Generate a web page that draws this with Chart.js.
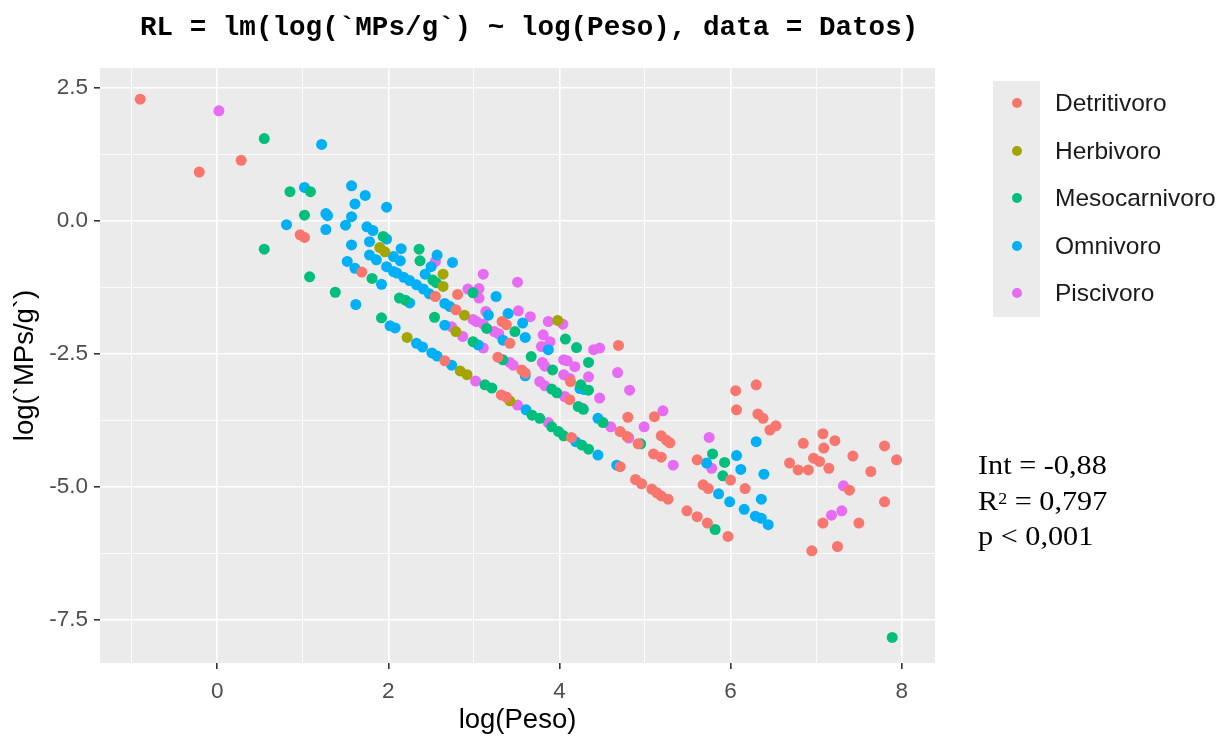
<!DOCTYPE html>
<html><head><meta charset="utf-8">
<script src="https://cdn.jsdelivr.net/npm/chart.js@4/dist/chart.umd.min.js"></script>
<style>
html,body{margin:0;padding:0;background:#fff;}
body{width:1220px;height:740px;overflow:hidden;position:relative;font-family:"Liberation Sans",Arial,sans-serif;}
#c{position:absolute;left:0;top:0;}
#title{position:absolute;left:140px;top:14px;font-family:"Liberation Mono","DejaVu Sans Mono",monospace;font-weight:bold;font-size:27.6px;line-height:28px;white-space:pre;color:#000;}
#legend{position:absolute;left:993px;top:81px;}
#legend .keys{position:absolute;left:0;top:0;width:47px;height:236px;background:#EBEBEB;}
#legend .item{position:absolute;left:0;height:47px;width:230px;}
#legend .dot{position:absolute;left:19px;width:10px;height:10px;border-radius:50%;}
#legend .lab{position:absolute;left:62px;font-size:24.5px;line-height:28px;color:#1a1a1a;white-space:nowrap;}
#annot{position:absolute;left:978px;top:448px;font-family:"Liberation Serif","Times New Roman",serif;font-size:27px;line-height:35.5px;color:#000;white-space:nowrap;transform:scaleX(1.12);transform-origin:0 0;}
#annot sup{font-size:16px;vertical-align:top;position:relative;top:-3px;}
</style>
</head><body>
<canvas id="c" width="1220" height="740"></canvas>
<div id="title">RL = lm(log(`MPs/g`) ~ log(Peso), data = Datos)</div>
<div id="legend"><div class="keys"></div></div>
<div id="annot">Int = -0,88<br>R<sup>2</sup> = 0,797<br>p &lt; 0,001</div>
<script>
const categories = ["Detritivoro","Herbivoro","Mesocarnivoro","Omnivoro","Piscivoro"];
const colors = ["#F8766D","#A3A500","#00BF7D","#00B0F6","#E76BF3"];

const detritivoro = [[-0.90,2.29],[-0.21,0.92],[0.28,1.14],[0.97,-0.26],[1.02,-0.31],[1.69,-0.96],[2.55,-1.42],[2.81,-1.38],[2.79,-1.67],[3.33,-1.89],[3.38,-1.95],[3.42,-2.30],[4.69,-2.34],[3.28,-2.56],[3.56,-2.80],[3.60,-2.86],[4.13,-3.02],[4.12,-3.36],[4.80,-3.69],[2.66,-2.63],[3.32,-3.27],[3.38,-3.31],[4.14,-4.07],[4.71,-3.96],[4.79,-4.05],[4.92,-4.19],[5.11,-3.68],[5.19,-4.04],[5.25,-4.12],[5.29,-4.17],[5.10,-4.38],[5.19,-4.44],[5.61,-4.49],[4.71,-4.62],[6.06,-3.19],[6.07,-3.55],[6.30,-3.08],[6.32,-3.63],[6.38,-3.71],[6.46,-3.93],[6.53,-3.85],[6.00,-4.87],[6.17,-5.03],[5.68,-4.96],[5.74,-5.03],[5.49,-5.45],[5.61,-5.56],[5.73,-5.68],[5.97,-5.93],[4.89,-4.86],[4.96,-4.94],[5.08,-5.04],[5.14,-5.11],[5.19,-5.17],[5.27,-5.23],[6.85,-4.18],[7.08,-4.00],[7.22,-4.13],[7.09,-4.27],[7.80,-4.23],[7.94,-4.49],[7.43,-4.42],[6.69,-4.55],[6.79,-4.68],[6.91,-4.68],[6.97,-4.46],[7.04,-4.52],[7.15,-4.65],[7.64,-4.71],[7.39,-5.06],[7.80,-5.28],[7.08,-5.68],[7.50,-5.68],[6.95,-6.20],[7.25,-6.12]];

const herbivoro = [[1.90,-0.50],[1.96,-0.58],[2.64,-1.00],[2.64,-1.23],[2.89,-1.77],[2.79,-2.08],[3.98,-1.87],[2.22,-2.19],[2.84,-2.82],[2.92,-2.89],[3.42,-3.38]];

const mesocarnivoro = [[0.55,1.55],[0.85,0.55],[1.09,0.55],[1.02,0.11],[0.55,-0.53],[1.08,-1.05],[1.38,-1.34],[1.94,-0.29],[1.81,-1.08],[1.92,-1.82],[2.13,-1.45],[2.20,-1.49],[2.36,-0.53],[2.37,-0.75],[2.52,-1.11],[2.56,-1.16],[2.54,-1.81],[2.99,-1.35],[3.15,-2.02],[3.48,-2.08],[4.07,-2.22],[4.20,-2.38],[2.99,-2.27],[3.34,-2.61],[3.67,-2.55],[3.92,-2.80],[4.34,-2.66],[4.25,-3.08],[4.34,-3.18],[3.91,-3.16],[3.97,-3.23],[4.22,-3.49],[4.28,-3.54],[4.51,-3.79],[3.13,-3.08],[3.21,-3.14],[3.68,-3.65],[3.77,-3.71],[3.91,-3.87],[3.99,-3.96],[4.05,-4.04],[4.26,-4.21],[4.34,-4.29],[4.95,-4.19],[5.79,-4.38],[5.93,-4.54],[5.91,-4.79],[5.82,-5.80],[7.89,-7.83]];

const omnivoro = [[1.22,1.44],[1.02,0.63],[1.57,0.66],[1.73,0.48],[1.61,0.32],[1.98,0.26],[1.27,0.14],[1.29,0.10],[1.57,0.08],[1.50,-0.08],[0.81,-0.07],[1.27,-0.16],[1.75,-0.11],[1.82,-0.18],[1.98,-0.34],[1.78,-0.39],[1.57,-0.45],[1.78,-0.64],[1.86,-0.73],[1.98,-0.86],[2.06,-0.95],[1.52,-0.76],[1.61,-0.89],[1.92,-1.19],[1.62,-1.57],[2.15,-0.52],[2.06,-0.67],[2.14,-0.75],[2.10,-0.98],[2.18,-1.06],[2.25,-1.12],[2.33,-1.20],[2.41,-1.28],[2.48,-1.37],[2.43,-1.00],[2.50,-0.86],[2.57,-0.64],[2.75,-0.78],[2.25,-1.54],[2.02,-1.97],[2.08,-2.01],[2.33,-2.30],[2.40,-2.37],[2.51,-2.48],[2.57,-2.54],[2.74,-2.71],[3.61,-3.55],[2.66,-1.55],[2.72,-1.61],[3.26,-1.42],[3.17,-1.77],[3.40,-1.74],[3.57,-1.92],[3.60,-2.19],[3.34,-2.24],[3.05,-2.33],[3.87,-2.42],[2.66,-1.96],[3.60,-2.91],[4.24,-3.15],[4.29,-3.17],[4.45,-3.71],[4.19,-4.15],[4.45,-4.40],[4.67,-4.59],[5.72,-4.55],[6.07,-4.41],[6.30,-4.15],[6.12,-4.67],[6.39,-4.76],[5.86,-5.13],[5.99,-5.28],[6.36,-5.23],[6.16,-5.42],[6.29,-5.55],[6.36,-5.59],[6.44,-5.71]];

const piscivoro = [[0.02,2.07],[2.55,-0.76],[3.11,-1.00],[3.51,-1.15],[2.93,-1.28],[3.06,-1.27],[3.06,-1.45],[2.99,-1.85],[3.03,-1.89],[3.14,-1.70],[3.11,-1.94],[3.24,-2.08],[3.29,-2.12],[3.52,-1.69],[3.66,-1.80],[3.87,-1.89],[4.04,-1.94],[3.81,-2.14],[3.89,-2.27],[3.79,-2.36],[4.40,-2.42],[4.47,-2.39],[3.11,-2.39],[2.87,-2.17],[2.74,-1.99],[3.42,-2.66],[3.46,-2.71],[3.80,-2.66],[3.83,-2.73],[4.05,-2.61],[4.09,-2.63],[4.18,-2.74],[4.68,-2.85],[4.05,-2.89],[4.12,-2.96],[4.34,-2.93],[3.77,-3.02],[3.83,-3.10],[4.06,-3.30],[4.47,-3.33],[4.82,-3.18],[4.27,-3.52],[3.02,-3.01],[3.51,-3.46],[3.87,-3.79],[4.60,-3.87],[4.81,-4.08],[4.99,-3.87],[5.21,-3.57],[5.33,-4.59],[5.75,-4.07],[5.78,-4.65],[7.32,-4.98],[7.18,-5.53],[7.30,-5.45]];

const xTicks = [-1,0,1,2,3,4,5,6,7,8];
const xMajor = [0,2,4,6,8];
const yTicks = [-7.5,-6.25,-5,-3.75,-2.5,-1.25,0,1.25,2.5];
const yMajor = [-7.5,-5,-2.5,0,2.5];
const xRange = [-1.37, 8.39];
const yRange = [-8.31, 2.876];

const seriesData = [detritivoro, herbivoro, mesocarnivoro, omnivoro, piscivoro];

// legend (HTML)
const leg = document.getElementById('legend');
categories.forEach((name,i)=>{
  const it = document.createElement('div');
  it.className='item'; it.style.top = (i*47.5)+'px';
  const d = document.createElement('div'); d.className='dot'; d.style.background=colors[i]; d.style.top='17px';
  const l = document.createElement('div'); l.className='lab'; l.textContent=name; l.style.top='8px';
  it.appendChild(d); it.appendChild(l); leg.appendChild(it);
});

const panelBg = {
  id:'panelBg',
  beforeDraw(chart){
    const {ctx, chartArea:a} = chart;
    ctx.save(); ctx.fillStyle='#EBEBEB';
    ctx.fillRect(a.left, a.top, a.right-a.left, a.bottom-a.top);
    ctx.restore();
  }
};

const isMajor = (arr,v)=>arr.some(m=>Math.abs(m-v)<1e-9);

new Chart(document.getElementById('c'), {
  type:'scatter',
  data:{
    datasets: categories.map((name,i)=>({
      label:name,
      data: seriesData[i].map(p=>({x:p[0], y:p[1]})),
      backgroundColor: colors[i],
      borderWidth:0,
      pointRadius:5.5,
      pointHoverRadius:5.5
    }))
  },
  options:{
    responsive:false,
    animation:false,
    events:[],
    layout:{padding:{top:68,right:285,left:0,bottom:0}},
    plugins:{legend:{display:false},tooltip:{enabled:false},title:{display:false}},
    scales:{
      x:{
        type:'linear', min:xRange[0], max:xRange[1],
        afterBuildTicks(s){ s.ticks = xTicks.map(v=>({value:v})); },
        afterFit(s){ s.height = 77; },
        border:{display:false},
        grid:{
          color:'#FFFFFF',
          lineWidth:(c)=> c.tick && isMajor(xMajor,c.tick.value) ? 1.6 : 0.8,
          tickColor:(c)=> c.tick && isMajor(xMajor,c.tick.value) ? '#333333' : 'rgba(0,0,0,0)',
          tickLength:6, drawTicks:true
        },
        ticks:{
          autoSkip:false, maxRotation:0, padding:9,
          color:'#4D4D4D', font:{family:'"Liberation Sans", Arial, sans-serif', size:22.5},
          callback:(v)=> isMajor(xMajor,v) ? String(v) : ''
        },
        title:{display:true, text:'log(Peso)', color:'#000', font:{family:'"Liberation Sans", Arial, sans-serif', size:27.5}, padding:{top:0,bottom:3}}
      },
      y:{
        type:'linear', min:yRange[0], max:yRange[1],
        afterBuildTicks(s){ s.ticks = yTicks.map(v=>({value:v})); },
        afterFit(s){ s.width = 100; },
        border:{display:false},
        grid:{
          color:'#FFFFFF',
          lineWidth:(c)=> c.tick && isMajor(yMajor,c.tick.value) ? 1.6 : 0.8,
          tickColor:(c)=> c.tick && isMajor(yMajor,c.tick.value) ? '#333333' : 'rgba(0,0,0,0)',
          tickLength:6, drawTicks:true
        },
        ticks:{
          autoSkip:false, padding:6,
          color:'#4D4D4D', font:{family:'"Liberation Sans", Arial, sans-serif', size:22.5},
          callback:(v)=> isMajor(yMajor,v) ? v.toFixed(1) : ''
        },
        title:{display:true, text:'log(`MPs/g`)', color:'#000', font:{family:'"Liberation Sans", Arial, sans-serif', size:27.5}, padding:{top:9,bottom:0}}
      }
    }
  },
  plugins:[panelBg]
});
</script>
</body></html>
